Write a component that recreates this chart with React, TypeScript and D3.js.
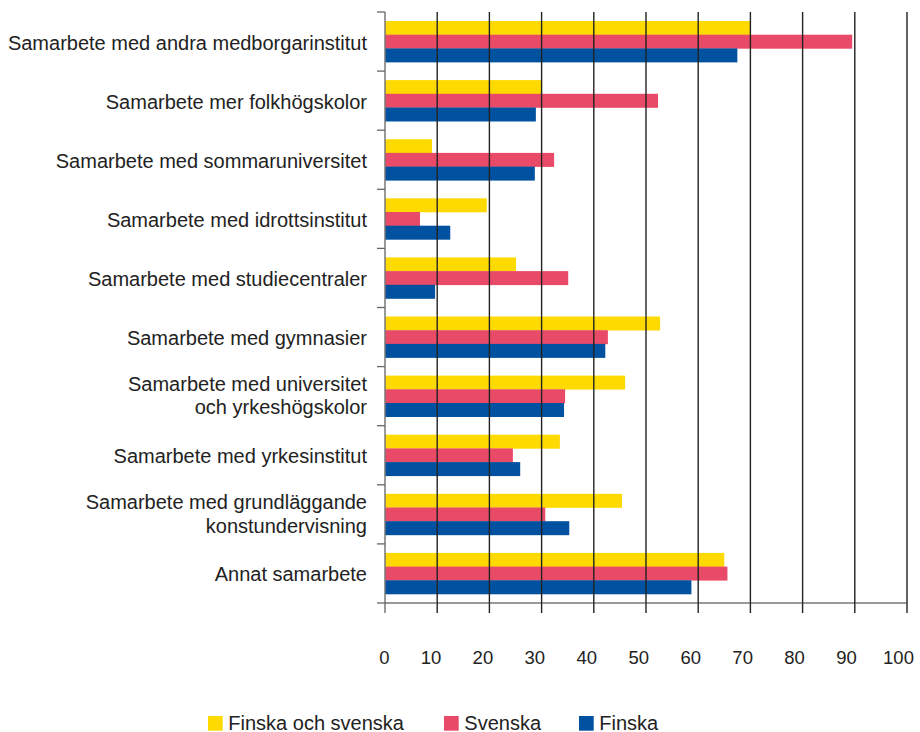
import { FC, useMemo } from 'react';
import * as d3 from 'd3';

const categories: string[][] = [
  ['Samarbete med andra medborgarinstitut'],
  ['Samarbete mer folkhögskolor'],
  ['Samarbete med sommaruniversitet'],
  ['Samarbete med idrottsinstitut'],
  ['Samarbete med studiecentraler'],
  ['Samarbete med gymnasier'],
  ['Samarbete med universitet', 'och yrkeshögskolor'],
  ['Samarbete med yrkesinstitut'],
  ['Samarbete med grundläggande', 'konstundervisning'],
  ['Annat samarbete'],
];

const seriesNames = ['Finska och svenska', 'Svenska', 'Finska'];
const finskaOchSvenska = [70, 30, 9, 19.5, 25.1, 52.7, 46, 33.5, 45.4, 65];
const svenska = [89.5, 52.3, 32.4, 6.7, 35.1, 42.7, 34.5, 24.5, 30.7, 65.6];
const finska = [67.5, 28.9, 28.7, 12.5, 9.6, 42.2, 34.3, 25.9, 35.3, 58.7];
const xTicks = [0, 10, 20, 30, 40, 50, 60, 70, 80, 90, 100];

const COLORS = ['#FFDA00', '#E94A68', '#00519F'];
const WIDTH = 920;
const HEIGHT = 732;
const MARGIN = { top: 12, left: 385, right: 13, bottom: 129 };
const FONT = '"Liberation Sans", Arial, sans-serif';

const App: FC = () => {
  const series = [finskaOchSvenska, svenska, finska];
  const boundsHeight = HEIGHT - MARGIN.top - MARGIN.bottom;

  const xScale = useMemo(
    () => d3.scaleLinear().domain([0, 100]).range([MARGIN.left, WIDTH - MARGIN.right]),
    []
  );
  const yScale = useMemo(
    () =>
      d3
        .scaleBand<number>()
        .domain(d3.range(categories.length))
        .range([MARGIN.top, MARGIN.top + boundsHeight])
        .paddingInner(0.305)
        .paddingOuter(0.1525),
    [boundsHeight]
  );
  const inner = d3
    .scaleBand<number>()
    .domain([0, 1, 2])
    .range([0, yScale.bandwidth()]);
  const step = yScale.step();
  const bottom = MARGIN.top + boundsHeight;

  return (
    <div style={{ position: 'absolute', left: 0, top: 0 }}>
      <svg width={WIDTH} height={HEIGHT} style={{ display: 'block', fontFamily: FONT }}>
        <rect width={WIDTH} height={HEIGHT} fill="#fff" />
        {/* bars */}
        {categories.map((_, i) =>
          series.map((vals, s) => (
            <rect
              key={`${i}-${s}`}
              x={xScale(0)}
              y={(yScale(i) as number) + (inner(s) as number)}
              width={xScale(vals[i]) - xScale(0)}
              height={inner.bandwidth() + 0.3}
              fill={COLORS[s]}
            />
          ))
        )}
        {/* vertical gridlines */}
        {xTicks.slice(1).map((t) => (
          <line
            key={t}
            x1={xScale(t)}
            x2={xScale(t)}
            y1={MARGIN.top}
            y2={bottom + 10}
            stroke="#222"
            strokeWidth={1.4}
          />
        ))}
        {/* x axis */}
        <line x1={xScale(0)} x2={xScale(100)} y1={bottom} y2={bottom} stroke="#333" strokeWidth={1.2} />
        <line x1={xScale(0)} x2={xScale(0)} y1={bottom} y2={bottom + 10} stroke="#555" strokeWidth={1.2} />
        {xTicks.map((t) => (
          <text
            key={t}
            x={xScale(t) + (t === 0 ? -0.7 : -6 - t * 0.025)}
            y={664}
            textAnchor="middle"
            fontSize={18.5}
            fill="#222"
          >
            {t}
          </text>
        ))}
        {/* y axis */}
        <line x1={xScale(0)} x2={xScale(0)} y1={MARGIN.top} y2={bottom} stroke="#777" strokeWidth={1.5} />
        {d3.range(categories.length + 1).map((k) => (
          <line
            key={k}
            x1={377}
            x2={xScale(0)}
            y1={MARGIN.top + k * step}
            y2={MARGIN.top + k * step}
            stroke="#666"
            strokeWidth={1.3}
          />
        ))}
        {categories.map((lines, i) => {
          const c = (yScale(i) as number) + yScale.bandwidth() / 2;
          return (
            <text key={i} textAnchor="end" fontSize={20} fill="#222">
              {lines.map((l, j) => (
                <tspan
                  key={j}
                  x={367}
                  y={lines.length === 1 ? c + 8 : c - 5 + j * 23.3}
                >
                  {l}
                </tspan>
              ))}
            </text>
          );
        })}
        {/* legend */}
        {seriesNames.map((name, s) => {
          const lx = [208, 444, 579][s];
          return (
            <g key={name}>
              <rect x={lx} y={716} width={14.7} height={14.7} fill={COLORS[s]} />
              <text x={lx + 20.3} y={730} fontSize={20} fill="#222">
                {name}
              </text>
            </g>
          );
        })}
      </svg>
    </div>
  );
};

export default App;
